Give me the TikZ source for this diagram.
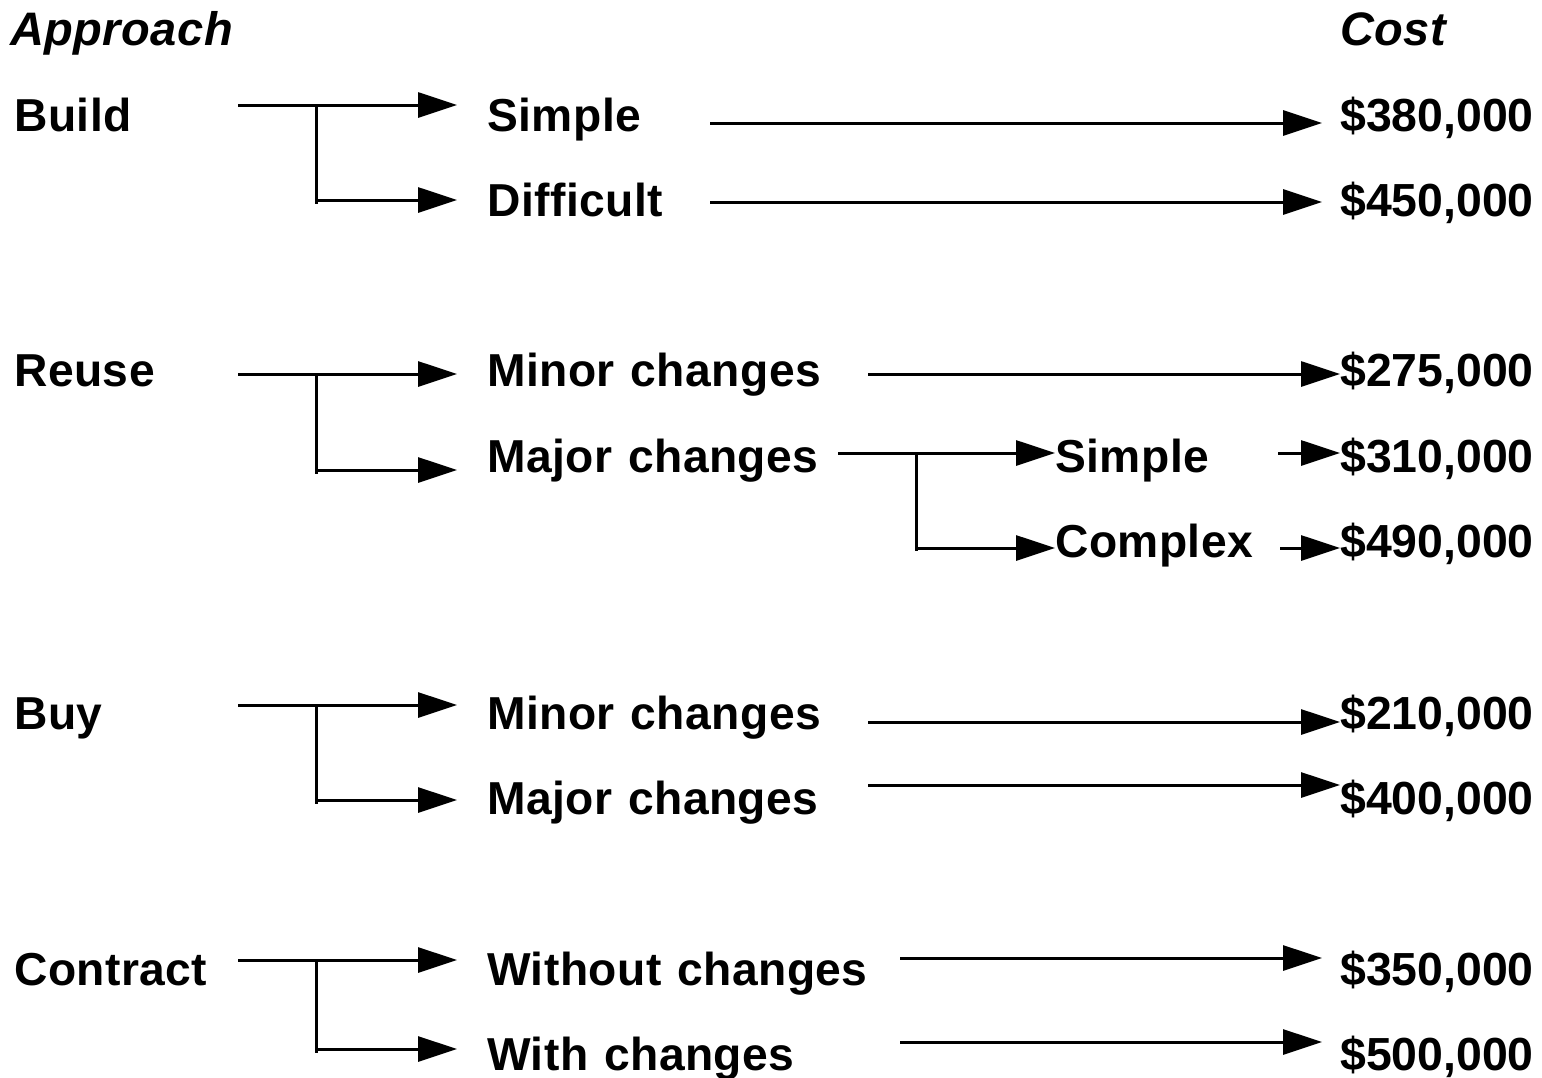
\documentclass[tikz,border=0pt]{standalone}
\usepackage{fontspec}
\setmainfont[WordSpace=1.2,LetterSpace=1.0]{Liberation Sans}
\newfontfamily\costfont{Liberation Sans}
\usetikzlibrary{arrows.meta}
\begin{document}
\begin{tikzpicture}[x=1pt,y=-1pt,
  lbl/.style={anchor=base west,inner sep=0pt,font=\fontsize{46.2}{50}\selectfont\bfseries},
  costlbl/.style={anchor=base west,inner sep=0pt,font=\costfont\fontsize{46.4}{50}\selectfont\bfseries},
  hdr/.style={anchor=base west,inner sep=0pt,font=\fontsize{47}{50}\selectfont\bfseries\itshape},
  conn/.style={line width=3pt},
  arr/.style={conn,-{Triangle[length=39pt,width=25pt]}}]
\useasboundingbox (0,0) rectangle (1542,1077);

% headers
\node[hdr] (approach) at (10,45) {Approach};
\node[hdr] (cost) at (1340,45) {Cost};

% ---------- Build ----------
\node[lbl] (build) at (14,131) {Build};
\node[lbl] (bsimple) at (487,131) {Simple};
\node[lbl] (bdiff) at (487,216) {Difficult};
\node[costlbl] (c380) at (1340,131) {\$380,000};
\node[costlbl] (c450) at (1340,216) {\$450,000};
\coordinate (bS) at (238,105);
\coordinate (bJ) at (316,105);
\coordinate (bT1) at (457,105);
\coordinate (bB) at (316,204);
\coordinate (bT2) at (457,200);
\draw[arr] (bS) -- (bT1);
\draw[conn] (bJ) -- (bB);
\draw[arr] (bB |- bT2) -- (bT2);
\coordinate (b1a) at (710,123);
\coordinate (b1b) at (1322,123);
\draw[arr] (b1a) -- (b1b);
\coordinate (b2a) at (710,202);
\coordinate (b2b) at (1322,202);
\draw[arr] (b2a) -- (b2b);

% ---------- Reuse ----------
\node[lbl] (reuse) at (14,386) {Reuse};
\node[lbl] (rminor) at (487,386) {Minor changes};
\node[lbl] (rmajor) at (487,472) {Major changes};
\node[lbl] (rsimple) at (1055,472) {Simple};
\node[lbl] (rcomplex) at (1055,557) {Complex};
\coordinate (rS) at (238,374);
\coordinate (rJ) at (316,374);
\coordinate (rT1) at (457,374);
\coordinate (rB) at (316,474);
\coordinate (rT2) at (457,470);
\draw[arr] (rS) -- (rT1);
\draw[conn] (rJ) -- (rB);
\draw[arr] (rB |- rT2) -- (rT2);
\node[costlbl] (c275) at (1340,386) {\$275,000};
\node[costlbl] (c310) at (1340,472) {\$310,000};
\node[costlbl] (c490) at (1340,557) {\$490,000};
\coordinate (r1a) at (868,374);
\coordinate (r1b) at (1340,374);
\draw[arr] (r1a) -- (r1b);
\coordinate (mS) at (838,453);
\coordinate (mJ) at (916,453);
\coordinate (mT1) at (1055,453);
\coordinate (mB) at (916,551);
\coordinate (mT2) at (1055,548);
\draw[arr] (mS) -- (mT1);
\draw[conn] (mJ) -- (mB);
\draw[arr] (mB |- mT2) -- (mT2);
\coordinate (r2a) at (1278,453);
\coordinate (r2b) at (1340,453);
\draw[arr] (r2a) -- (r2b);
\coordinate (r3a) at (1280,548);
\coordinate (r3b) at (1340,548);
\draw[arr] (r3a) -- (r3b);

% ---------- Buy ----------
\node[lbl] (buy) at (14,729) {Buy};
\node[lbl] (yminor) at (487,729) {Minor changes};
\node[lbl] (ymajor) at (487,814) {Major changes};
\node[costlbl] (c210) at (1340,729) {\$210,000};
\node[costlbl] (c400) at (1340,814) {\$400,000};
\coordinate (yS) at (238,705);
\coordinate (yJ) at (316,705);
\coordinate (yT1) at (457,705);
\coordinate (yB) at (316,804);
\coordinate (yT2) at (457,800);
\draw[arr] (yS) -- (yT1);
\draw[conn] (yJ) -- (yB);
\draw[arr] (yB |- yT2) -- (yT2);
\coordinate (y1a) at (868,722);
\coordinate (y1b) at (1340,722);
\draw[arr] (y1a) -- (y1b);
\coordinate (y2a) at (868,785);
\coordinate (y2b) at (1340,785);
\draw[arr] (y2a) -- (y2b);

% ---------- Contract ----------
\node[lbl] (contract) at (14,985) {Contract};
\node[lbl] (cwithout) at (487,985) {Without changes};
\node[lbl] (cwith) at (487,1070) {With changes};
\node[costlbl] (c350) at (1340,985) {\$350,000};
\node[costlbl] (c500) at (1340,1070) {\$500,000};
\coordinate (kS) at (238,960);
\coordinate (kJ) at (316,960);
\coordinate (kT1) at (457,960);
\coordinate (kB) at (316,1053);
\coordinate (kT2) at (457,1049);
\draw[arr] (kS) -- (kT1);
\draw[conn] (kJ) -- (kB);
\draw[arr] (kB |- kT2) -- (kT2);
\coordinate (k1a) at (900,958);
\coordinate (k1b) at (1322,958);
\draw[arr] (k1a) -- (k1b);
\coordinate (k2a) at (900,1042);
\coordinate (k2b) at (1322,1042);
\draw[arr] (k2a) -- (k2b);
\end{tikzpicture}
\end{document}
